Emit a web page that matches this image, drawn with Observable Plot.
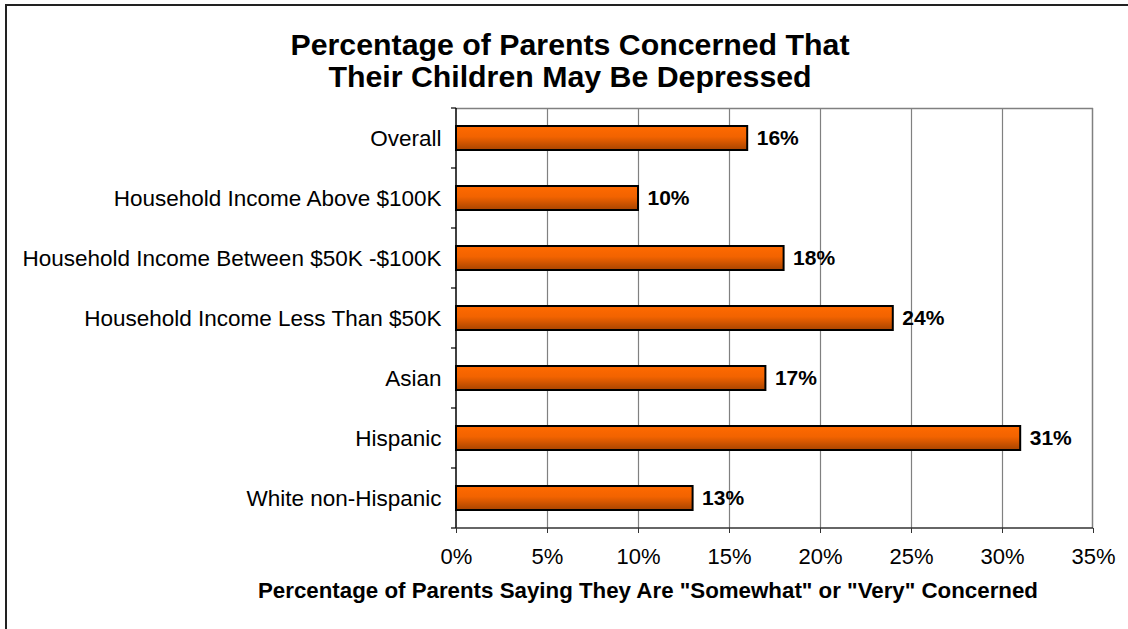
<!DOCTYPE html>
<html>
<head>
<meta charset="utf-8">
<script src="https://cdn.jsdelivr.net/npm/d3@7"></script>
<script src="https://cdn.jsdelivr.net/npm/@observablehq/plot@0.6"></script>
<style>
  html, body { margin: 0; padding: 0; background: #fff; }
  #wrap { position: relative; width: 1128px; height: 629px; overflow: hidden; font-family: Arial, "Liberation Sans", sans-serif; }
  #border { position: absolute; left: 5px; top: 4px; width: 1130px; height: 640px; border-top: 2px solid #222; border-left: 2px solid #222; box-sizing: border-box; }
  #title { position: absolute; left: 170px; width: 800px; top: 29px; text-align: center; font-weight: bold; font-size: 30.3px; line-height: 32px; color: #000; }
  #xtitle { position: absolute; left: 148px; width: 1000px; top: 578px; text-align: center; font-weight: bold; font-size: 22.3px; line-height: 26px; color: #000; }
  #chart { position: absolute; left: 0; top: 0; }
</style>
</head>
<body>
<div id="wrap">
  <div id="chart"></div>
  <div id="border"></div>
  <div id="title">Percentage of Parents Concerned That<br>Their Children May Be Depressed</div>
  <div id="xtitle">Percentage of Parents Saying They Are "Somewhat" or "Very" Concerned</div>
</div>
<script>
const categories = [
  "Overall",
  "Household Income Above $100K",
  "Household Income Between $50K -$100K",
  "Household Income Less Than $50K",
  "Asian",
  "Hispanic",
  "White non-Hispanic"
];
const values = [16, 10, 18, 24, 17, 31, 13];
const xTicks = [0, 5, 10, 15, 20, 25, 30, 35];

const data = categories.map((c, i) => ({cat: c, value: values[i]}));
const NS = "http://www.w3.org/2000/svg";

function gradientDefs() {
  const defs = document.createElementNS(NS, "defs");
  const lg = document.createElementNS(NS, "linearGradient");
  lg.setAttribute("id", "barGrad");
  lg.setAttribute("x1", "0"); lg.setAttribute("y1", "0");
  lg.setAttribute("x2", "0"); lg.setAttribute("y2", "1");
  [["0%", "#ff6a00"], ["45%", "#f26300"], ["100%", "#a84400"]].forEach(([o, c]) => {
    const s = document.createElementNS(NS, "stop");
    s.setAttribute("offset", o); s.setAttribute("stop-color", c);
    lg.appendChild(s);
  });
  defs.appendChild(lg);
  return defs;
}

function frameAndTicks(index, scales, values, dims) {
  const g = document.createElementNS(NS, "g");
  const L = dims.marginLeft, R = dims.width - dims.marginRight;
  const T = dims.marginTop, B = dims.height - dims.marginBottom;
  const line = (x1, y1, x2, y2, stroke, w) => {
    const l = document.createElementNS(NS, "line");
    l.setAttribute("x1", x1); l.setAttribute("y1", y1);
    l.setAttribute("x2", x2); l.setAttribute("y2", y2);
    l.setAttribute("stroke", stroke); l.setAttribute("stroke-width", w);
    g.appendChild(l);
  };
  line(L, T + 0.5, R, T + 0.5, "#808080", 1.5);
  line(R - 0.5, T, R - 0.5, B, "#808080", 1.5);
  line(L, T, L, B, "#000", 1.5);
  line(L, B, R, B, "#333", 1.5);
  const y = scales.y;
  const step = y(categories[1]) - y(categories[0]);
  const bw = typeof y.bandwidth === "function" ? y.bandwidth() : step * 0.4;
  const ys = categories.map(c => y(c) - (step - bw) / 2);
  ys.push(ys[ys.length - 1] + step);
  ys.forEach(v => line(L - 5, v, L, v, "#000", 1.2));
  return g;
}

const chart = Plot.plot({
  width: 1128,
  height: 629,
  marginTop: 108,
  marginLeft: 456,
  marginRight: 35,
  marginBottom: 101,
  style: {fontFamily: "Arial, 'Liberation Sans', sans-serif", fontSize: "22px", color: "#000", background: "transparent"},
  x: {domain: [0, 35]},
  y: {domain: categories, paddingInner: 0.6, paddingOuter: 0.3},
  marks: [
    gradientDefs,
    Plot.ruleX(xTicks.slice(1, -1), {stroke: "#808080", strokeWidth: 1.2, strokeOpacity: 1}),
    Plot.barX(data, {x: "value", y: "cat", fill: "url(#barGrad)", stroke: "#000", strokeWidth: 2}),
    Plot.text(data, {x: "value", y: "cat", text: d => d.value + "%", textAnchor: "start", dx: 9, fontWeight: "bold", fontSize: 21, fill: "#000"}),
    Plot.axisX({ticks: xTicks, tickSize: 5, tickPadding: 15, tickFormat: d => d + "%", fontSize: 22, label: null, stroke: "#333"}),
    Plot.axisY({tickSize: 0, tickPadding: 15, fontSize: 22.5, label: null}),
    frameAndTicks
  ]
});
document.getElementById("chart").appendChild(chart);
</script>
</body>
</html>
